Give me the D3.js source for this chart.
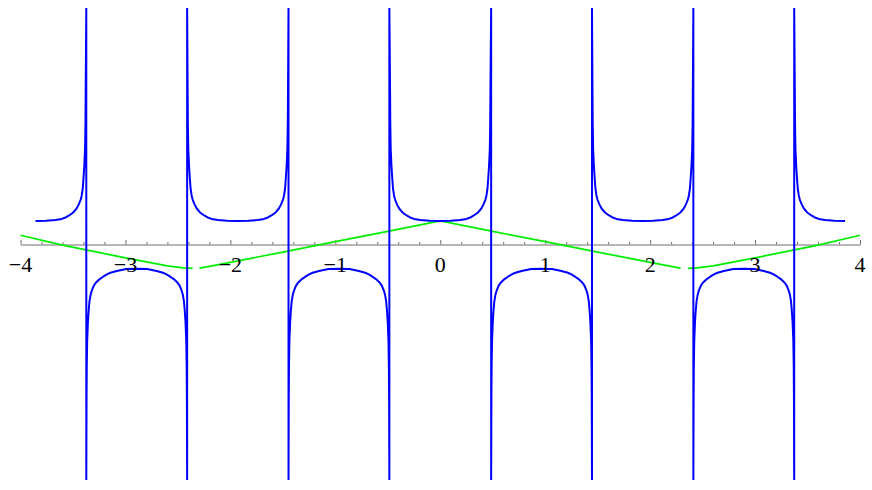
<!DOCTYPE html>
<html>
<head>
<meta charset="utf-8">
<script src="https://cdn.jsdelivr.net/npm/d3@7"></script>
<style>
    body { margin: 0; background: #fff; }
</style>
</head>
<body>
<svg></svg>
<script>
/* global d3 */
// values
var majorTicks = [-4, -3, -2, -1, 0, 1, 2, 3, 4],
    tickLabels = ["\u22124", "\u22123", "\u22122", "\u22121", "0", "1", "2", "3", "4"];

// blue curve: asymptotes, branch centres and signs
var asymptotes = [-3.373, -2.412, -1.446, -0.485, 0.485, 1.446, 2.412, 3.373],
    branchCenters = [-3.857, -2.8925, -1.929, -0.9655, 0, 0.9655, 1.929, 2.8925, 3.857],
    branchSigns = [1, -1, 1, -1, 1, -1, 1, -1, 1];

// one half of a branch: distance from its centre and height
var profileOffset = [0, 0.1, 0.19, 0.25, 0.28, 0.32, 0.36, 0.39, 0.41, 0.43, 0.44, 0.45, 0.458, 0.465, 0.472, 0.476, 0.478],
    profileUp     = [1.0, 1.01, 1.04, 1.09, 1.14, 1.24, 1.37, 1.53, 1.7, 1.92, 2.1, 2.4, 2.9, 3.4, 4.1, 5.2, 6.5],
    profileDown   = [-1.07, -1.09, -1.17, -1.25, -1.31, -1.42, -1.55, -1.68, -1.82, -2.05, -2.22, -2.48, -2.9, -3.4, -4.2, -5.3, -6.6];

// green curve (null = gap in the line)
var greenX = [-4, -3.6, -3, -2.6, -2.45, -2.36, null, -2.295, -2.2, -2, -1.5, -1, -0.5, 0, 0.5, 1, 1.5, 2, 2.2, 2.29, null, 2.36, 2.45, 2.6, 3, 3.6, 4],
    greenY = [0.38, -0.05, -0.6, -0.95, -1.04, -1.06, null, -1.05, -0.97, -0.8, -0.35, 0.1, 0.55, 1.0, 0.55, 0.1, -0.35, -0.8, -0.97, -1.05, null, -1.06, -1.04, -0.95, -0.6, -0.05, 0.38];

var width = 872,
    height = 490,
    svg,
    xScale,
    yScale;

function init() {
    svg = d3.select("svg")
            .attr("width", width)
            .attr("height", height);

    xScale = d3.scaleLinear()
            .domain([-4, 4])
            .range([20.5, 860]);

    yScale = d3.scaleLinear()
            .domain([-10.25, 10.25])
            .range([480, 8]);

    svg.append("defs").append("clipPath")
            .attr("id", "plot-clip")
            .append("rect")
            .attr("x", 0)
            .attr("y", yScale(yScale.domain()[1]))
            .attr("width", width)
            .attr("height", yScale(yScale.domain()[0]) - yScale(yScale.domain()[1]));

    drawAxis();
    drawGreen();
    drawBlue();
    drawLabels();
}

function drawAxis() {
    var y0 = yScale(0) + 0.5;
    var minorTicks = d3.range(-4, 4.001, 0.2).filter(function (v) {
        return Math.abs(v - Math.round(v)) > 0.01;
    });

    var minor = svg.append("g")
            .attr("transform", "translate(0," + y0 + ")")
            .call(d3.axisBottom(xScale).tickValues(minorTicks).tickSize(-2.5).tickSizeOuter(0).tickFormat(""));
    minor.select(".domain").remove();

    svg.append("g")
            .attr("transform", "translate(0," + y0 + ")")
            .call(d3.axisBottom(xScale).tickValues(majorTicks).tickSize(-4.5).tickSizeOuter(0).tickFormat(""));

    svg.selectAll(".domain, .tick line")
            .attr("stroke", "#6e6e6e")
            .attr("stroke-width", 1);
}

function drawGreen() {
    var pts = greenX.map(function (x, i) {
        return {x: x, y: greenY[i]};
    });
    var line = d3.line()
            .defined(function (d) { return d.x !== null; })
            .x(function (d) { return xScale(d.x); })
            .y(function (d) { return yScale(d.y); });

    svg.append("path")
            .attr("d", line(pts))
            .attr("fill", "none")
            .attr("stroke", "#00ee00")
            .attr("stroke-width", 1.7)
            .attr("clip-path", "url(#plot-clip)");
}

function drawBlue() {
    var top = yScale.domain()[1],
        bottom = yScale.domain()[0],
        pts = [];

    branchCenters.forEach(function (c, b) {
        var vals = branchSigns[b] > 0 ? profileUp : profileDown,
            edge = branchSigns[b] > 0 ? top : bottom,
            first = b === 0,
            last = b === branchCenters.length - 1;

        if (!first) {
            pts.push({x: asymptotes[b - 1], y: edge});
            for (var i = profileOffset.length - 1; i > 0; i--) {
                pts.push({x: c - profileOffset[i], y: vals[i]});
            }
        }
        pts.push({x: c, y: vals[0]});
        if (!last) {
            for (var j = 1; j < profileOffset.length; j++) {
                pts.push({x: c + profileOffset[j], y: vals[j]});
            }
            pts.push({x: asymptotes[b], y: edge});
        }
    });

    var line = d3.line()
            .x(function (d) { return xScale(d.x); })
            .y(function (d) { return yScale(d.y); });

    svg.append("path")
            .attr("d", line(pts))
            .attr("fill", "none")
            .attr("stroke", "#0000ff")
            .attr("stroke-width", 2)
            .attr("stroke-linejoin", "round")
            .attr("clip-path", "url(#plot-clip)");
}

function drawLabels() {
    svg.append("g")
            .selectAll("text")
            .data(majorTicks).enter().append("text")
            .attr("x", function (d) { return xScale(d); })
            .attr("y", 272)
            .attr("text-anchor", "middle")
            .style("font-family", "'Liberation Serif', 'DejaVu Serif', serif")
            .style("font-size", "22px")
            .style("fill", "#000")
            .text(function (d, i) { return tickLabels[i]; });
}

init();
</script>
</body>
</html>
